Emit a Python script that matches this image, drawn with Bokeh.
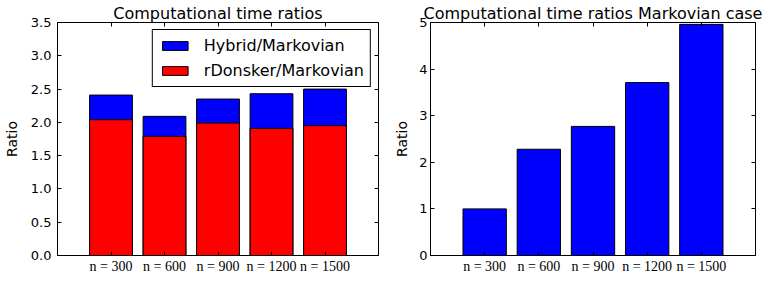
from bokeh.plotting import figure
from bokeh.models import Range1d, FixedTicker, LinearAxis, CustomJSTickFormatter
from bokeh.layouts import row
from bokeh.embed import file_html
from bokeh.resources import INLINE

# ---- data ----
categories = ["n = 300", "n = 600", "n = 900", "n = 1200", "n = 1500"]
hybrid_ratio = [2.41, 2.09, 2.35, 2.43, 2.50]
rdonsker_ratio = [2.04, 1.79, 1.99, 1.91, 1.95]
markovian_case_ratio = [1.00, 2.28, 2.77, 3.71, 4.96]
left_yticks = [0.0, 0.5, 1.0, 1.5, 2.0, 2.5, 3.0, 3.5]
left_ytick_labels = ["0.0", "0.5", "1.0", "1.5", "2.0", "2.5", "3.0", "3.5"]
right_yticks = [0, 1, 2, 3, 4, 5]
right_ytick_labels = ["0", "1", "2", "3", "4", "5"]

xpos = list(range(len(categories)))
FONT = "DejaVu Sans"
BLANK = CustomJSTickFormatter(code="return ''")


def make_fig(width, border_left, border_right, ymax, yticks, ylabels, title,
             label_standoff, axis_label_standoff):
    p = figure(width=width, height=284, output_backend="svg", toolbar_location=None,
               x_range=Range1d(-1, len(categories)), y_range=Range1d(0, ymax),
               min_border_left=border_left, min_border_right=border_right,
               min_border_top=22, min_border_bottom=29, title=title)
    p.title.text_font = FONT
    p.title.text_font_size = "16px"
    p.title.text_font_style = "normal"
    p.title.text_color = "black"
    p.title.align = "center"
    p.title.standoff = 0
    p.title.offset = 0
    p.xgrid.visible = False
    p.ygrid.visible = False
    p.outline_line_color = "black"
    p.outline_line_width = 1
    p.outline_line_alpha = 1
    p.background_fill_color = "white"
    p.border_fill_color = "white"

    for ax in p.xaxis:
        ax.ticker = FixedTicker(ticks=xpos)
        ax.major_label_overrides = {i: c for i, c in zip(xpos, categories)}
        ax.major_label_text_font = "Liberation Serif"
        ax.major_label_text_font_size = "14px"
        ax.major_label_standoff = 3
    for ax in p.yaxis:
        ax.ticker = FixedTicker(ticks=yticks)
        ax.major_label_overrides = {t: l for t, l in zip(yticks, ylabels)}
        ax.major_label_text_font = FONT
        ax.major_label_text_font_size = "13px"
        ax.major_label_standoff = label_standoff
        ax.axis_label = "Ratio"
        ax.axis_label_text_font = FONT
        ax.axis_label_text_font_size = "14px"
        ax.axis_label_text_font_style = "normal"
        ax.axis_label_standoff = axis_label_standoff
    for ax in list(p.xaxis) + list(p.yaxis):
        ax.major_tick_in = 4
        ax.major_tick_out = 0
        ax.minor_tick_line_color = None
        ax.axis_line_color = "black"
        ax.major_tick_line_color = "black"
        ax.major_label_text_color = "black"
        ax.axis_label_text_color = "black"

    top = LinearAxis(ticker=FixedTicker(ticks=xpos), formatter=BLANK)
    right = LinearAxis(ticker=FixedTicker(ticks=yticks), formatter=BLANK)
    for ax in (top, right):
        ax.major_tick_in = 4
        ax.major_tick_out = 0
        ax.minor_tick_line_color = None
        ax.axis_line_color = None
        ax.major_tick_line_color = "black"
        ax.major_label_standoff = 0
        ax.major_label_text_font_size = "1px"
    p.add_layout(top, "above")
    p.add_layout(right, "right")
    return p


p1 = make_fig(382, 53, 4, 3.5, left_yticks, left_ytick_labels, "Computational time ratios", 6, 8)
p1.vbar(x=xpos, top=hybrid_ratio, width=0.8, fill_color="#0000ff", line_color="black",
        line_width=1, legend_label="Hybrid/Markovian")
p1.vbar(x=xpos, top=rdonsker_ratio, width=0.8, fill_color="#ff0000", line_color="black",
        line_width=1, legend_label="rDonsker/Markovian")
lg = p1.legend[0]
lg.location = "top_right"
lg.margin = 7
lg.padding = 6
lg.spacing = 6
lg.glyph_width = 32
lg.glyph_height = 11
lg.label_height = 17
lg.label_standoff = 13
lg.label_text_font = FONT
lg.label_text_font_size = "16px"
lg.label_text_line_height = 1.0
lg.label_text_color = "black"
lg.border_line_color = "black"
lg.border_line_width = 1
lg.border_line_alpha = 1
lg.background_fill_alpha = 1

p2 = make_fig(381, 48, 8, 5, right_yticks, right_ytick_labels,
              "Computational time ratios Markovian case", 3, 6)
p2.vbar(x=xpos, top=markovian_case_ratio, width=0.8, fill_color="#0000ff", line_color="black",
        line_width=1)

layout = row(p1, p2)
open("out.html", "w").write(file_html(layout, INLINE))
